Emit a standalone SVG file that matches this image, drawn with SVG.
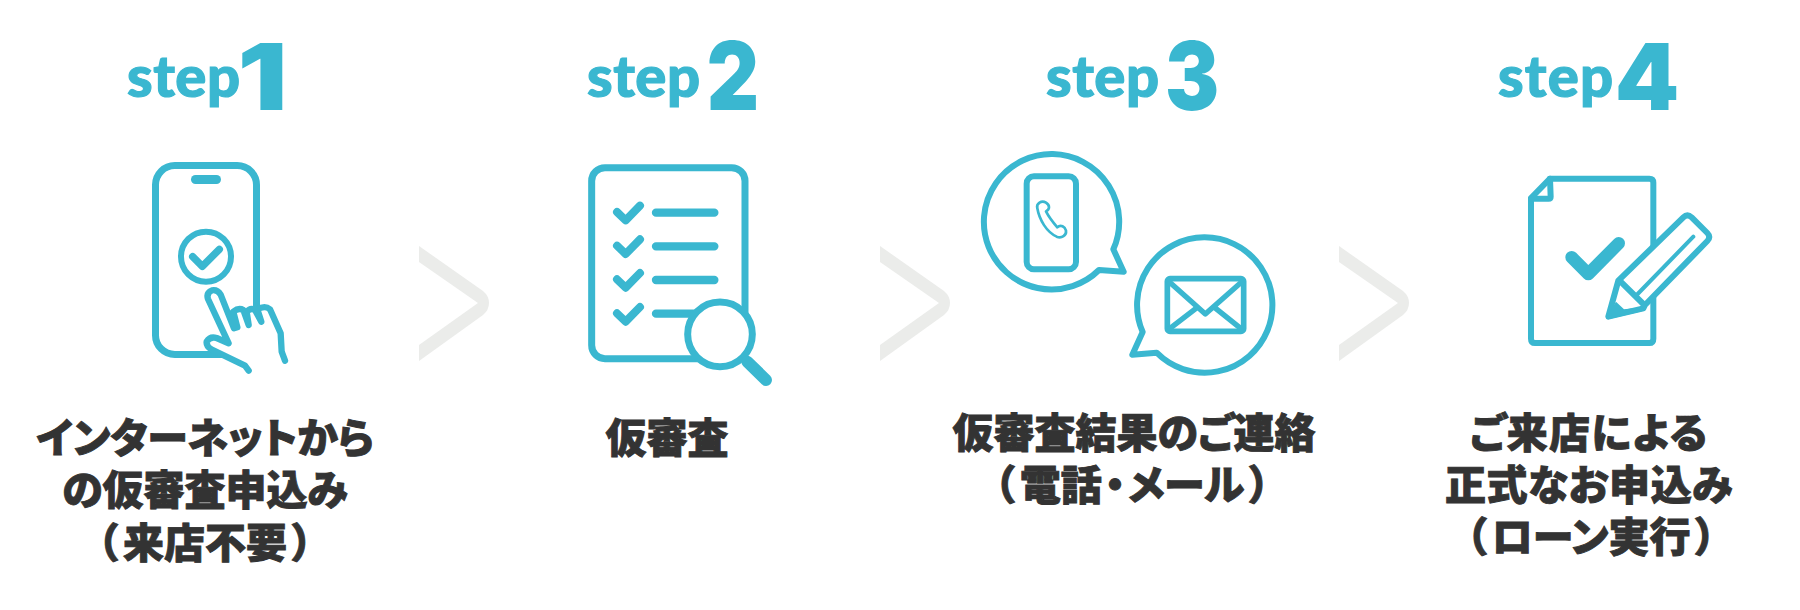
<svg xmlns="http://www.w3.org/2000/svg" width="1800" height="610" viewBox="0 0 1800 610">
<style>
.stp{font-family:"Lato","Liberation Sans",sans-serif;font-weight:900;font-size:58px;fill:#3ab7d0;stroke:#3ab7d0;stroke-width:1.2px}
.num{font-family:"Inter","Liberation Sans",sans-serif;font-weight:900;font-size:92px;fill:#3ab7d0;text-anchor:middle}
.lbl{font-family:"Noto Sans CJK JP","Noto Sans",sans-serif;font-weight:900;font-size:41px;fill:#333;stroke:#333;stroke-width:.9px;text-anchor:middle;font-feature-settings:"palt"}
.ic{fill:none;stroke:#3ab7d0;stroke-linecap:round;stroke-linejoin:round}
.w{fill:#fff}
.chev{fill:#ebecea}
</style>
<defs>
<path id="cv" d="M419,246L483,291Q489,296 489,303Q489,310 483,315L419,361V345L478,303L419,262Z"/>
<g id="chk"><path d="M351,636L377,661L420,617" class="ic" stroke-width="24"/></g>
</defs>
<rect width="1800" height="610" fill="#fff"/>
<g id="connectors" class="chev">
<use href="#cv"/>
<use href="#cv" x="461"/>
<use href="#cv" x="920"/>
</g>
<g id="step1">
<text class="stp" x="127" y="96.5" textLength="113">step</text>
<text class="num" transform="translate(262.500,110) scale(1.2,1)">1</text>
<g transform="scale(.33333)" class="ic" stroke-width="21">
<rect x="466.500" y="496.500" width="303" height="567" rx="58"/>
<rect x="573" y="525" width="90" height="27" rx="13.500" style="fill:#3ab7d0;stroke:none"/>
<circle cx="618" cy="770" r="75" stroke-width="18"/>
<path d="M578,770L607,799L658,748" stroke-width="22"/>
<path class="w" stroke-width="19" d="M746,1112L735,1097L634,1048Q618,1038 620,1025Q630,1008 650,1014L686,1030L624,897Q618,878 636,871Q652,868 662,884L702,985L712,982L700,935Q716,922 730,930L746,975L740,935Q752,922 765,930L784,965L772,928Q795,915 810,928L842,1000L845,1055L855,1082"/>
</g>
<text class="lbl" x="205" y="453">インターネットから</text>
<text class="lbl" x="205" y="505">の仮審査申込み</text>
<text class="lbl" x="205" y="558" dx="0 5 0 0 0 5">（来店不要）</text>
</g>
<g id="step2">
<text class="stp" x="587" y="96.500" textLength="113">step</text>
<text class="num" transform="translate(733,110) scale(.88,1.03)">2</text>
<g transform="translate(500,0) scale(.33333)" class="ic">
<rect x="275" y="503" width="460" height="573" rx="40" stroke-width="21"/>
<use href="#chk"/><use href="#chk" y="101"/><use href="#chk" y="202"/><use href="#chk" y="304"/>
<path d="M468,638H643M468,739H643M468,840H643M468,941H600" stroke-width="25"/>
<circle class="w" cx="660" cy="1003" r="97" stroke-width="21"/>
<path d="M742,1085L798,1140" stroke-width="36"/>
</g>
<text class="lbl" x="667" y="453">仮審査</text>
</g>
<g id="step3">
<text class="stp" x="1046" y="96.500" textLength="113">step</text>
<text class="num" transform="translate(1192,110) scale(.88,1.03)">3</text>
<g transform="translate(950,0) scale(.33333)" class="ic" stroke-width="18">
<path d="M490,748L521,815L447,810A203,203 0 1 1 490,748Z"/>
<rect x="230" y="529" width="148" height="279" rx="22"/>
<path stroke-width="8" d="M262,625C258,610 275,600 288,608C300,616 300,628 288,634C296,650 310,668 322,682C332,672 345,680 348,692C350,706 335,716 320,710C290,696 268,660 262,625Z"/>
<path d="M578,996L547,1064L620,1058A203,203 0 1 0 578,996Z"/>
<rect x="652" y="836" width="229" height="158" rx="8" stroke-width="17"/>
<path stroke-width="16" d="M654,842L766,942L879,842M660,985L738,925M872,985L797,925"/>
</g>
<text class="lbl" x="1134" y="448">仮審査結果のご連絡</text>
<text class="lbl" x="1132" y="500" dx="0 5 0 3 3 0 0 5">（電話・メール）</text>
</g>
<g id="step4">
<text class="stp" x="1498" y="96.500" textLength="115">step</text>
<text class="num" x="1647" y="110">4</text>
<g transform="translate(1350,0) scale(.33333)" class="ic" stroke-width="18">
<path d="M600,536H898Q910,536 910,548V1016Q910,1029 898,1029H555Q543,1029 543,1016V594Z"/>
<path d="M600,536L602,590Q602,596 596,596H543"/>
<path d="M665,772L715,822L806,730" stroke-width="38"/>
<path class="w" d="M775,950L805,842L1000,652Q1012,640 1025,652L1072,699Q1084,711 1072,723L885,915L880,925Z"/>
<path d="M812,845L880,912"/>
<path d="M860,885L1030,710" stroke-width="12"/>
<path style="fill:#3ab7d0;stroke:none" d="M768,955L798,905L822,928L880,922L882,932L775,958Z"/>
</g>
<text class="lbl" x="1589" y="448" letter-spacing="1.300">ご来店による</text>
<text class="lbl" x="1589" y="500" letter-spacing=".6">正式なお申込み</text>
<text class="lbl" x="1591" y="552" dx="0 5 0 0 0 0 5">（ローン実行）</text>
</g>
</svg>
